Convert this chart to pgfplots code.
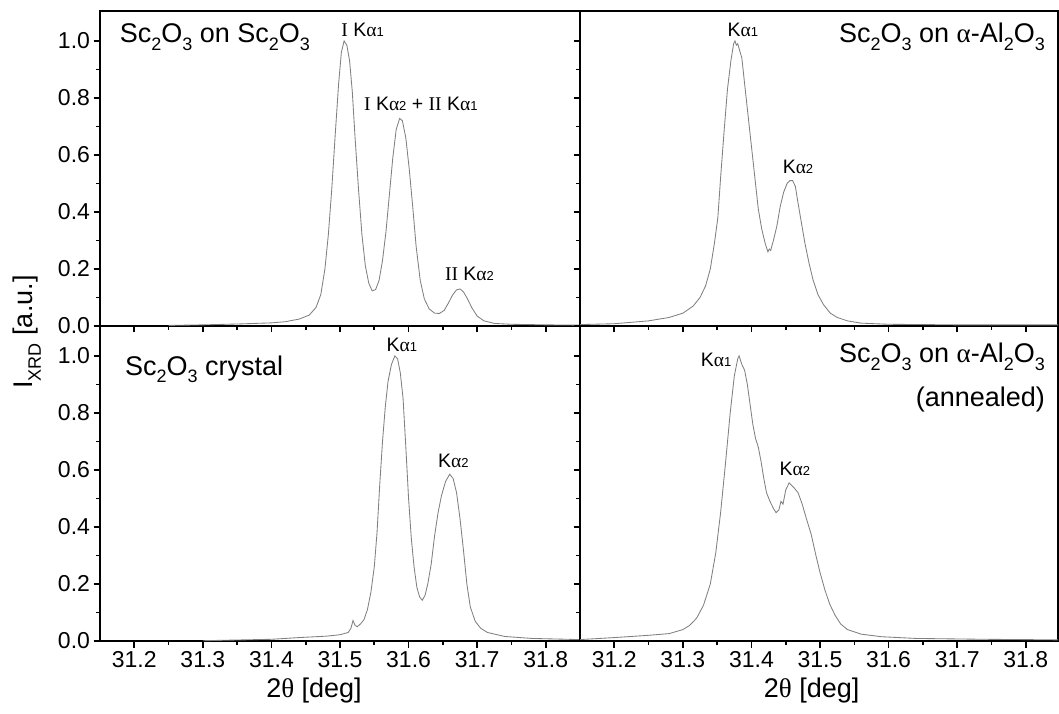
\documentclass[border=0pt]{standalone}
\usepackage{pgfplots}
\pgfplotsset{compat=1.18}
\usepackage{fontspec}
\setmainfont{Liberation Sans}
\newfontfamily\tf{Liberation Serif}
\newcommand\tickfont{\fontsize{23}{25}\selectfont}
\newcommand\titlefont{\fontsize{27}{30}\selectfont}
\newcommand\pkfont{\fontsize{19.5}{21}\selectfont}
\newcommand\ssub[1]{\raisebox{-0.27em}{\fontsize{18}{19}\selectfont #1}}
\newcommand\ysub[1]{\raisebox{-0.33em}{\fontsize{18}{19}\selectfont #1}}
\newcommand\Ka[1]{K{\tf α}{\fontsize{13}{14}\selectfont #1}}
\definecolor{curve}{rgb}{0.5,0.5,0.5}

\pgfplotstableread{
x y
31.25 0.002
31.30 0.004
31.35 0.007
31.40 0.011
31.42 0.015
31.44 0.024
31.455 0.038
31.465 0.065
31.472 0.11
31.478 0.20
31.483 0.32
31.488 0.48
31.493 0.67
31.498 0.85
31.502 0.96
31.506 1.0
31.510 0.985
31.514 0.93
31.518 0.82
31.522 0.66
31.527 0.48
31.532 0.32
31.537 0.21
31.542 0.15
31.547 0.123
31.552 0.128
31.557 0.16
31.562 0.23
31.567 0.33
31.572 0.46
31.577 0.59
31.582 0.69
31.587 0.728
31.591 0.72
31.596 0.66
31.601 0.55
31.606 0.42
31.611 0.28
31.617 0.16
31.623 0.095
31.630 0.06
31.638 0.045
31.645 0.044
31.652 0.055
31.658 0.08
31.664 0.108
31.670 0.127
31.675 0.13
31.680 0.12
31.686 0.095
31.692 0.065
31.700 0.035
31.710 0.018
31.725 0.009
31.75 0.006
31.80 0.004
31.85 0.003
}\tl

\pgfplotstableread{
x y
31.30 0.001
31.34 0.003
31.40 0.006
31.44 0.012
31.48 0.017
31.50 0.022
31.512 0.030
31.516 0.045
31.519 0.072
31.522 0.055
31.525 0.050
31.530 0.060
31.535 0.075
31.540 0.11
31.545 0.17
31.550 0.26
31.554 0.38
31.558 0.55
31.562 0.70
31.566 0.82
31.570 0.91
31.575 0.97
31.580 1.0
31.584 0.99
31.588 0.94
31.592 0.85
31.596 0.68
31.600 0.50
31.604 0.36
31.608 0.26
31.612 0.19
31.616 0.155
31.620 0.143
31.624 0.16
31.628 0.20
31.633 0.27
31.638 0.37
31.643 0.45
31.648 0.51
31.654 0.56
31.660 0.585
31.665 0.57
31.670 0.52
31.675 0.43
31.680 0.32
31.685 0.20
31.690 0.12
31.697 0.07
31.705 0.045
31.715 0.030
31.74 0.016
31.78 0.009
31.85 0.005
}\bl

\pgfplotstableread{
x y
31.15 0.005
31.20 0.008
31.25 0.018
31.28 0.030
31.30 0.045
31.315 0.070
31.325 0.10
31.333 0.14
31.340 0.20
31.346 0.29
31.351 0.38
31.355 0.52
31.360 0.68
31.365 0.83
31.370 0.93
31.374 0.99
31.376 1.0
31.378 0.985
31.380 0.99
31.383 0.965
31.386 0.94
31.390 0.85
31.395 0.74
31.400 0.63
31.405 0.52
31.410 0.41
31.415 0.34
31.420 0.29
31.424 0.26
31.426 0.27
31.428 0.265
31.432 0.30
31.437 0.35
31.442 0.42
31.447 0.47
31.452 0.50
31.456 0.51
31.460 0.51
31.464 0.49
31.468 0.43
31.473 0.36
31.478 0.29
31.484 0.22
31.490 0.16
31.497 0.11
31.505 0.075
31.515 0.045
31.525 0.030
31.54 0.018
31.56 0.010
31.60 0.006
31.70 0.004
31.847 0.004
}\tr

\pgfplotstableread{
x y
31.15 0.005
31.20 0.012
31.25 0.020
31.28 0.026
31.30 0.040
31.31 0.055
31.32 0.080
31.33 0.125
31.34 0.20
31.348 0.31
31.355 0.45
31.362 0.62
31.369 0.80
31.375 0.93
31.380 0.99
31.382 1.0
31.386 0.97
31.390 0.95
31.394 0.90
31.398 0.83
31.402 0.76
31.406 0.71
31.410 0.68
31.414 0.63
31.418 0.57
31.422 0.52
31.427 0.49
31.432 0.465
31.436 0.45
31.440 0.46
31.443 0.49
31.446 0.48
31.450 0.53
31.455 0.555
31.459 0.545
31.463 0.535
31.468 0.52
31.474 0.48
31.480 0.43
31.487 0.375
31.494 0.30
31.500 0.24
31.507 0.18
31.514 0.13
31.522 0.09
31.530 0.060
31.54 0.040
31.56 0.024
31.59 0.015
31.64 0.009
31.74 0.006
31.847 0.004
}\br

\pgfplotsset{panel/.style={
  scale only axis, anchor=south west,
  width=480pt, height=315pt,
  xmin=31.15, xmax=31.85, ymin=0, ymax=1.105,
  xtick={31.2,31.3,31.4,31.5,31.6,31.7,31.8},
  ytick={0,0.2,0.4,0.6,0.8,1.0},
  minor x tick num=1, minor y tick num=1,
  tick align=outside, xtick pos=bottom, ytick pos=left,
  axis line style={line width=2pt},
  every tick/.style={black, line width=1.6pt},
  major tick length=6.5pt, minor tick length=4pt,
  tick label style={font=\tickfont},
  /pgf/number format/assume math mode=true,
  /pgf/number format/fixed, /pgf/number format/fixed zerofill,
  /pgf/number format/precision=1,
  }}

\begin{document}
\begin{tikzpicture}
\useasboundingbox (0,0) rectangle (1059pt,713pt);

% bottom-left
\begin{axis}[panel, at={(100pt,72pt)}]
\addplot[curve, line width=0.85pt] table[x=x,y=y] {\bl};
\node[anchor=base west, font=\titlefont] at (rel axis cs:0.045,0.844) {Sc\ssub{2}O\ssub{3} crystal};
\node[anchor=base west, font=\pkfont] at (axis cs:31.563,1.015) {\Ka{1}};
\node[anchor=base west, font=\pkfont] at (axis cs:31.638,0.609) {\Ka{2}};
\end{axis}

% bottom-right
\begin{axis}[panel, at={(580pt,72pt)}, width=478pt, xmax=31.847, yticklabels={}]
\addplot[curve, line width=0.85pt] table[x=x,y=y] {\br};
\node[anchor=base east, font=\titlefont] at (rel axis cs:0.98,0.883) {Sc\ssub{2}O\ssub{3} on {\tf α}-Al\ssub{2}O\ssub{3}};
\node[anchor=base east, font=\titlefont] at (rel axis cs:0.98,0.746) {(annealed)};
\node[anchor=base west, font=\pkfont] at (axis cs:31.321,0.962) {\Ka{1}};
\node[anchor=base west, font=\pkfont] at (axis cs:31.436,0.580) {\Ka{2}};
\end{axis}

% top-left
\begin{axis}[panel, at={(100pt,387pt)}, xticklabels={}]
\addplot[curve, line width=0.85pt] table[x=x,y=y] {\tl};
\node[anchor=base west, font=\titlefont] at (rel axis cs:0.034,0.899) {Sc\ssub{2}O\ssub{3} on Sc\ssub{2}O\ssub{3}};
\node[anchor=base west, font=\pkfont] at (axis cs:31.497,1.015) {{\tf I} \Ka{1}};
\node[anchor=base west, font=\pkfont] at (axis cs:31.530,0.755) {{\tf I} \Ka{2} + {\tf II} \Ka{1}};
\node[anchor=base west, font=\pkfont] at (axis cs:31.648,0.160) {{\tf II} \Ka{2}};
\end{axis}

% top-right
\begin{axis}[panel, at={(580pt,387pt)}, width=478pt, xmax=31.847, xticklabels={}, yticklabels={}]
\addplot[curve, line width=0.85pt] table[x=x,y=y] {\tr};
\node[anchor=base east, font=\titlefont] at (rel axis cs:0.98,0.899) {Sc\ssub{2}O\ssub{3} on {\tf α}-Al\ssub{2}O\ssub{3}};
\node[anchor=base west, font=\pkfont] at (axis cs:31.360,1.015) {\Ka{1}};
\node[anchor=base west, font=\pkfont] at (axis cs:31.4405,0.536) {\Ka{2}};
\end{axis}

\node[anchor=base, font=\titlefont] at (314pt,16pt) {2{\tf θ} [deg]};
\node[anchor=base, font=\titlefont] at (811.7pt,16pt) {2{\tf θ} [deg]};
\node[rotate=90, anchor=base, font=\titlefont] at (32pt,381pt) {I\ysub{XRD} [a.u.]};
\end{tikzpicture}
\end{document}
